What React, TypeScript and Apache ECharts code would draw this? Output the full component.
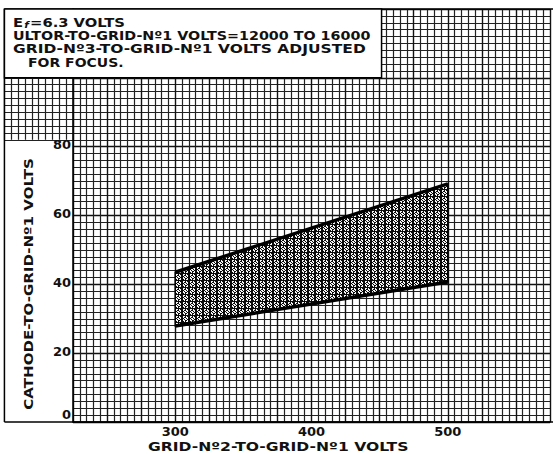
import React, { useEffect, useRef } from 'react';
import * as echarts from 'echarts';

// ---- data ----
const xTickLabels = [300, 400, 500];
const yTickLabels = [0, 20, 40, 60, 80];
const bandX = [300, 500];
const bandUpper = [43.5, 69.2];
const bandLower = [27.9, 40.7];
const titleLine1 = { main: 'E', sub: 'f', rest: '=6.3 VOLTS' };
const titleLines = ['ULTOR-TO-GRID-Nº1 VOLTS=12000 TO 16000', 'GRID-Nº3-TO-GRID-Nº1 VOLTS ADJUSTED', 'FOR FOCUS.'];
const xName = 'GRID-Nº2-TO-GRID-Nº1 VOLTS';
const yName = 'CATHODE-TO-GRID-Nº1 VOLTS';

// ---- layout ----
const W = 553, H = 454;
const G = { left: 73, top: 9, right: 0, bottom: 32 };
const X_MIN = 225, X_MAX = 575, Y_MIN = 0, Y_MAX = 120;
const pxX = (W - G.left - G.right) / (X_MAX - X_MIN);
const pxY = (H - G.top - G.bottom) / (Y_MAX - Y_MIN);
const STRIP = { x0: 175, x1: 225, y0: 82, y1: 100 };
const stripLeft = G.left - (STRIP.x1 - STRIP.x0) * pxX;
const stripTop = G.top + (Y_MAX - STRIP.y1) * pxY;
const BOX_X1 = 450;
const boxW = (BOX_X1 - STRIP.x0) * pxX;
const boxH = (Y_MAX - STRIP.y1) * pxY;
const bottomY = H - G.bottom;

const FONT = 'DejaVu Sans';
const INK = '#111';

const minorLine = { show: true, lineStyle: { color: '#222', width: 1.2 } };
const majorLine = { show: true, lineStyle: { color: '#111', width: 1.4 } };

const TILE = [
  '#######',
  '#..#.##',
  '#.##..#',
  '##..#.#',
  '#.#..##',
  '#..##.#',
  '##.#..#',
];

function makePattern(): string | null {
  try {
    const c = document.createElement('canvas');
    c.width = TILE[0].length;
    c.height = TILE.length;
    const ctx = c.getContext('2d');
    if (!ctx) return null;
    TILE.forEach((row, y) => {
      for (let x = 0; x < row.length; x++) {
        ctx.fillStyle = row[x] === '#' ? '#0a0a0a' : '#f4f4f4';
        ctx.fillRect(x, y, 1, 1);
      }
    });
    return c.toDataURL();
  } catch (e) {
    return null;
  }
}

export default function App() {
  const ref = useRef<HTMLDivElement>(null);
  useEffect(() => {
    if (!ref.current) return;
    const chart = echarts.init(ref.current, null, { renderer: 'svg' });
    const pat = makePattern();
    const bandFill: any = pat ? { image: pat, repeat: 'repeat' } : 'rgba(40,40,40,0.72)';
    const txt = (t: string, x: number, y: number, sx: number, size = 12.5) => ({
      type: 'text', z: 21, x, y, scaleX: sx,
      style: { text: t, fill: INK, font: `bold ${size}px "${FONT}"`, verticalAlign: 'middle', textVerticalAlign: 'middle' },
    });
    const option: any = {
      animation: false,
      backgroundColor: '#fff',
      grid: [
        { left: G.left, top: G.top, right: G.right, bottom: G.bottom },
        { left: stripLeft, top: stripTop, width: (STRIP.x1 - STRIP.x0) * pxX, height: (STRIP.y1 - STRIP.y0) * pxY },
      ],
      xAxis: [
        {
          type: 'value', gridIndex: 0, min: X_MIN, max: X_MAX, interval: 25,
          axisLine: { show: true, lineStyle: { color: '#000', width: 1.5 } },
          axisTick: { show: false },
          minorTick: { show: false, splitNumber: 5 },
          splitLine: majorLine,
          minorSplitLine: minorLine,
          axisLabel: {
            interval: 0, margin: 3, color: INK, fontFamily: FONT, fontWeight: 'bold', fontSize: 13,
            formatter: (v: number) => (xTickLabels.includes(v) ? String(v) : ''),
          },
        },
        {
          type: 'value', gridIndex: 1, min: STRIP.x0, max: STRIP.x1, interval: 5,
          axisLine: { show: false }, axisTick: { show: false }, axisLabel: { show: false },
          splitLine: minorLine,
        },
      ],
      yAxis: [
        {
          type: 'value', gridIndex: 0, min: Y_MIN, max: Y_MAX, interval: 20,
          axisLine: { show: true, lineStyle: { color: '#000', width: 1.5 } },
          axisTick: { show: false },
          minorTick: { show: false, splitNumber: 10 },
          splitLine: majorLine,
          minorSplitLine: minorLine,
          axisLabel: {
            interval: 0, margin: 2, color: INK, fontFamily: FONT, fontWeight: 'bold', fontSize: 13,
            formatter: (v: number) => (yTickLabels.includes(v) ? (v === 0 ? '{z|0}' : `{n|${v}}`) : ''),
            rich: {
              z: { fontFamily: FONT, fontWeight: 'bold', fontSize: 13, color: INK, padding: [0, 0, 16, 0] },
              n: { fontFamily: FONT, fontWeight: 'bold', fontSize: 13, color: INK, padding: [0, 0, 4, 0] },
            },
          },
        },
        {
          type: 'value', gridIndex: 1, min: STRIP.y0, max: STRIP.y1, interval: 2,
          axisLine: { show: false }, axisTick: { show: false }, axisLabel: { show: false },
          splitLine: minorLine,
        },
      ],
      series: [
        {
          type: 'custom',
          xAxisIndex: 0, yAxisIndex: 0,
          data: bandX.map((x, i) => [x, bandLower[i], bandUpper[i]]),
          encode: { x: 0, y: [1, 2] },
          z: 3,
          renderItem: (params: any, api: any) => {
            if (params.dataIndex !== 0) return null;
            const top = bandX.map((x, i) => api.coord([x, bandUpper[i]]));
            const bot = bandX.map((x, i) => api.coord([x, bandLower[i]])).reverse();
            return {
              type: 'polygon',
              shape: { points: [...top, ...bot] },
              style: { fill: bandFill, stroke: '#000', lineWidth: 1.5 },
            };
          },
        },
        {
          type: 'line', xAxisIndex: 0, yAxisIndex: 0, symbol: 'none', z: 4,
          data: bandX.map((x, i) => [x, bandUpper[i]]),
          lineStyle: { color: '#000', width: 3.5 },
        },
        {
          type: 'line', xAxisIndex: 0, yAxisIndex: 0, symbol: 'none', z: 4,
          data: bandX.map((x, i) => [x, bandLower[i]]),
          lineStyle: { color: '#000', width: 3.5 },
        },
      ],
      graphic: [
        // outer frame
        { type: 'line', z: 20, shape: { x1: stripLeft, y1: G.top, x2: stripLeft, y2: bottomY }, style: { stroke: '#000', lineWidth: 1.5 } },
        { type: 'line', z: 20, shape: { x1: stripLeft, y1: bottomY, x2: W, y2: bottomY }, style: { stroke: '#000', lineWidth: 1.5 } },
        { type: 'line', z: 20, shape: { x1: stripLeft, y1: G.top, x2: W, y2: G.top }, style: { stroke: '#000', lineWidth: 1.5 } },
        // note box
        { type: 'rect', z: 20, shape: { x: stripLeft, y: G.top, width: boxW, height: boxH }, style: { fill: '#fff', stroke: '#000', lineWidth: 1.5 } },
        {
          type: 'text', z: 21, x: 13, y: 22, scaleX: 1.18,
          style: {
            text: `{a|${titleLine1.main}}{s|${titleLine1.sub}}{a|${titleLine1.rest}}`,
            verticalAlign: 'middle', textVerticalAlign: 'middle',
            rich: {
              a: { fontFamily: FONT, fontWeight: 'bold', fontSize: 12.5, fill: INK, color: INK },
              s: { fontFamily: FONT, fontStyle: 'italic', fontWeight: 'bold', fontSize: 9, fill: INK, color: INK, padding: [5, 1, 0, 1] },
            },
          },
        },
        txt(titleLines[0], 13, 35.5, 1.145),
        txt(titleLines[1], 13, 49, 1.24),
        txt(titleLines[2], 28, 62.5, 1.12),
        txt(xName, 148, 446, 1.2, 13),
        {
          type: 'text', z: 21, x: 28, y: 284, rotation: Math.PI / 2, scaleX: 1.16,
          style: { text: yName, fill: INK, font: `bold 13px "${FONT}"`, align: 'center', textAlign: 'center', verticalAlign: 'middle', textVerticalAlign: 'middle' },
        },
      ],
    };
    chart.setOption(option);
    return () => chart.dispose();
  }, []);
  return <div ref={ref} style={{ width: W, height: H, position: 'absolute', left: 0, top: 0 }} />;
}
